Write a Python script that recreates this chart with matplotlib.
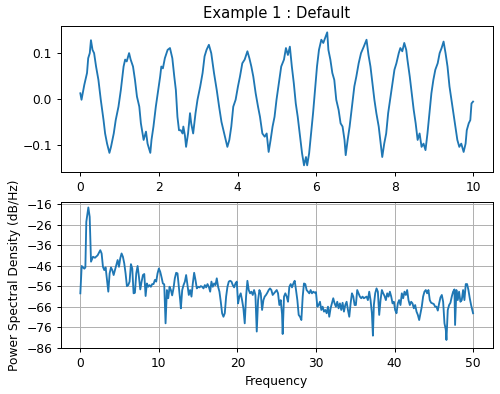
import numpy as np
import matplotlib
matplotlib.use("Agg")
import matplotlib.pyplot as plt

# ---- top panel: time signal ----
t = [0.00, 0.03, 0.10, 0.17, 0.20, 0.24, 0.27, 0.31, 0.35, 0.40, 0.46, 0.52, 0.59, 0.63, 0.68, 0.74,
     0.78, 0.85, 0.90, 0.97, 1.03, 1.10, 1.14, 1.18, 1.24, 1.28, 1.34, 1.39, 1.44, 1.50, 1.54, 1.61,
     1.67, 1.71, 1.78, 1.81, 1.86, 1.92, 1.98, 2.03, 2.06, 2.10, 2.15, 2.22, 2.28, 2.34, 2.39, 2.43,
     2.47, 2.51, 2.555, 2.60, 2.62, 2.66, 2.69, 2.74, 2.79, 2.82, 2.87, 2.93, 2.98, 3.05, 3.11, 3.16,
     3.21, 3.27, 3.33, 3.40, 3.47, 3.53, 3.59, 3.64, 3.70, 3.74, 3.79, 3.84, 3.89, 3.95, 4.01, 4.06,
     4.12, 4.18, 4.25, 4.30, 4.35, 4.40, 4.46, 4.52, 4.57, 4.63, 4.69, 4.74, 4.79, 4.84, 4.89, 4.94,
     4.99, 5.05, 5.11, 5.18, 5.23, 5.28, 5.33, 5.38, 5.43, 5.48, 5.53, 5.58, 5.64, 5.69, 5.74, 5.77,
     5.82, 5.87, 5.92, 5.97, 6.02, 6.07, 6.13, 6.18, 6.24, 6.28, 6.31, 6.36, 6.41, 6.46, 6.51, 6.57,
     6.62, 6.67, 6.72, 6.75, 6.80, 6.85, 6.91, 6.97, 7.02, 7.08, 7.14, 7.21, 7.28, 7.33, 7.38, 7.43,
     7.48, 7.53, 7.59, 7.63, 7.68, 7.73, 7.78, 7.83, 7.88, 7.94, 7.99, 8.04, 8.10, 8.14, 8.19, 8.24,
     8.29, 8.32, 8.38, 8.43, 8.48, 8.53, 8.58, 8.63, 8.68, 8.73, 8.78, 8.83, 8.88, 8.93, 8.98, 9.03,
     9.09, 9.14, 9.19, 9.24, 9.29, 9.34, 9.39, 9.44, 9.49, 9.54, 9.59, 9.64, 9.69, 9.75, 9.80, 9.83,
     9.88, 9.92, 9.95, 9.99]
s = [0.013, -0.001, 0.031, 0.057, 0.089, 0.100, 0.128, 0.107, 0.100, 0.071, 0.042, -0.001, -0.045, -0.074, -0.096, -0.116,
     -0.103, -0.074, -0.045, -0.016, 0.020, 0.071, 0.086, 0.082, 0.100, 0.086, 0.071, 0.042, 0.006, -0.016, -0.052, -0.088,
     -0.070, -0.096, -0.116, -0.088, -0.059, -0.016, 0.020, 0.049, 0.071, 0.067, 0.089, 0.107, 0.111, 0.089, 0.049, 0.020,
     -0.038, -0.067, -0.067, -0.074, -0.059, -0.078, -0.103, -0.074, -0.030, -0.052, -0.074, -0.030, -0.001, 0.028, 0.057, 0.093,
     0.107, 0.118, 0.100, 0.057, 0.020, -0.016, -0.049, -0.067, -0.088, -0.103, -0.088, -0.059, -0.016, -0.001, 0.028, 0.049,
     0.078, 0.086, 0.104, 0.089, 0.071, 0.049, 0.013, -0.016, -0.038, -0.074, -0.081, -0.074, -0.114, -0.088, -0.059, -0.038,
     -0.001, 0.035, 0.071, 0.086, 0.111, 0.096, 0.114, 0.071, 0.035, -0.009, -0.038, -0.074, -0.117, -0.143, -0.125, -0.143,
     -0.117, -0.074, -0.030, 0.020, 0.071, 0.107, 0.129, 0.122, 0.136, 0.145, 0.107, 0.086, 0.057, 0.042, -0.001, -0.023,
     -0.052, -0.059, -0.088, -0.121, -0.088, -0.059, -0.016, 0.028, 0.049, 0.078, 0.100, 0.114, 0.129, 0.096, 0.071, 0.035,
     -0.001, -0.030, -0.059, -0.088, -0.125, -0.096, -0.074, -0.030, -0.001, 0.035, 0.064, 0.078, 0.100, 0.111, 0.104, 0.122,
     0.107, 0.086, 0.049, 0.013, -0.023, -0.052, -0.088, -0.074, -0.103, -0.096, -0.110, -0.074, -0.030, 0.013, 0.042, 0.064,
     0.078, 0.100, 0.111, 0.125, 0.100, 0.071, 0.028, -0.001, -0.030, -0.059, -0.088, -0.103, -0.096, -0.114, -0.096, -0.067,
     -0.052, -0.045, -0.009, -0.005]

# ---- bottom panel: PSD (dB/Hz) ----
freq = [0.0, 0.17, 0.34, 0.51, 0.64, 0.76, 1.02, 1.19, 1.36, 1.61, 1.86, 2.20, 2.54, 2.71, 2.88, 3.05,
        3.22, 3.39, 3.56, 3.73, 3.90, 4.07, 4.24, 4.41, 4.58, 4.75, 4.92, 5.08, 5.25, 5.42, 5.59, 5.76,
        5.93, 6.10, 6.27, 6.44, 6.61, 6.78, 6.95, 7.12, 7.29, 7.46, 7.63, 7.80, 7.97, 8.14, 8.31, 8.47,
        8.64, 8.81, 8.98, 9.15, 9.32, 9.49, 9.66, 9.83, 10.0, 10.17, 10.34, 10.51, 10.68, 10.85, 11.02, 11.19,
        11.36, 11.53, 11.69, 11.86, 12.03, 12.20, 12.37, 12.54, 12.71, 12.80, 12.97, 13.14, 13.31, 13.47, 13.64, 13.81,
        13.98, 14.15, 14.32, 14.49, 14.66, 14.83, 15.0, 15.17, 15.34, 15.51, 15.68, 15.85, 16.02, 16.19, 16.36, 16.53,
        16.69, 16.86, 17.03, 17.20, 17.37, 17.54, 17.71, 17.88, 18.05, 18.22, 18.39, 18.56, 18.73, 18.90, 19.07, 19.24,
        19.41, 19.58, 19.75, 19.92, 20.08, 20.25, 20.42, 20.59, 20.76, 20.93, 21.10, 21.27, 21.44, 21.61, 21.78, 21.95,
        22.12, 22.29, 22.46, 22.63, 22.80, 22.97, 23.14, 23.31, 23.47, 23.64, 23.81, 23.98, 24.15, 24.32, 24.49, 24.66,
        24.83, 25.0, 25.17, 25.34, 25.51, 25.68, 25.76, 25.93, 26.10, 26.27, 26.44, 26.61, 26.78, 26.95, 27.12, 27.29,
        27.46, 27.63, 27.80, 27.97, 28.14, 28.31, 28.47, 28.64, 28.81, 28.98, 29.15, 29.32, 29.49, 29.66, 29.83, 30.0,
        30.17, 30.34, 30.51, 30.68, 30.85, 31.02, 31.19, 31.36, 31.53, 31.69, 31.86, 32.03, 32.20, 32.37, 32.54, 32.71,
        32.88, 33.05, 33.22, 33.39, 33.56, 33.73, 33.90, 34.07, 34.24, 34.41, 34.58, 34.75, 34.92, 35.08, 35.25, 35.42,
        35.59, 35.76, 35.93, 36.10, 36.27, 36.44, 36.61, 36.78, 36.95, 37.12, 37.25, 37.37, 37.54, 37.71, 37.88, 38.05,
        38.22, 38.39, 38.56, 38.73, 38.90, 39.07, 39.24, 39.41, 39.58, 39.75, 39.92, 40.08, 40.25, 40.42, 40.59, 40.76,
        40.93, 41.10, 41.27, 41.44, 41.61, 41.78, 41.95, 42.12, 42.29, 42.46, 42.63, 42.80, 42.97, 43.14, 43.31, 43.47,
        43.64, 43.81, 43.98, 44.15, 44.32, 44.49, 44.66, 44.83, 45.0, 45.17, 45.34, 45.51, 45.68, 45.85, 46.02, 46.19,
        46.36, 46.53, 46.61, 46.78, 46.95, 47.12, 47.29, 47.46, 47.63, 47.71, 47.88, 48.05, 48.22, 48.39, 48.56, 48.73,
        48.90, 49.07, 49.24, 49.41, 49.58, 49.75, 50.0]
psd_db = [-59.4, -46.1, -46.8, -47.4, -46.8, -24.6, -17.6, -22.2, -44.0, -41.6, -42.1, -40.9, -38.4, -40.0, -46.5, -48.1,
          -46.8, -52.9, -58.6, -49.7, -46.8, -48.1, -50.5, -48.1, -45.6, -43.2, -46.5, -42.4, -40.0, -41.6, -44.8, -49.7,
          -55.9, -55.4, -53.7, -45.2, -47.3, -59.4, -59.1, -49.7, -46.1, -51.3, -57.5, -53.7, -50.5, -50.0, -60.7, -54.6,
          -56.2, -55.4, -56.2, -54.9, -54.9, -52.9, -53.7, -49.7, -47.3, -48.9, -51.6, -54.6, -55.0, -74.0, -57.8, -61.8,
          -56.2, -57.8, -60.4, -57.0, -52.1, -49.4, -49.7, -56.2, -62.7, -66.7, -57.8, -55.4, -53.7, -50.5, -55.4, -60.2,
          -57.8, -61.0, -54.6, -49.4, -52.9, -57.0, -56.2, -56.5, -55.9, -56.2, -57.0, -55.4, -56.5, -54.9, -56.2, -58.6,
          -53.7, -56.2, -54.6, -55.4, -52.1, -56.2, -58.6, -63.5, -69.1, -70.8, -69.1, -61.0, -56.2, -53.7, -53.3, -53.7,
          -55.4, -56.5, -54.6, -53.7, -64.3, -61.0, -59.4, -62.7, -66.7, -74.0, -61.0, -53.3, -57.8, -59.4, -58.6, -60.2,
          -57.8, -60.2, -78.0, -62.7, -57.8, -59.4, -67.5, -62.7, -61.0, -60.2, -59.1, -57.8, -57.0, -57.8, -60.2, -59.4,
          -58.6, -57.8, -59.4, -65.1, -62.7, -69.5, -79.2, -61.0, -59.4, -61.0, -63.5, -56.2, -54.9, -56.5, -54.6, -53.3,
          -57.8, -62.7, -69.9, -70.8, -72.4, -61.0, -54.6, -54.9, -57.8, -58.6, -59.4, -57.8, -59.4, -58.6, -59.1, -58.8,
          -65.9, -65.1, -63.5, -67.5, -65.9, -68.3, -67.5, -69.1, -65.9, -70.8, -66.7, -64.3, -61.8, -64.3, -65.9, -63.5,
          -66.7, -64.3, -67.5, -64.0, -68.3, -65.1, -63.5, -67.5, -70.8, -64.3, -59.4, -61.0, -65.1, -65.1, -57.8, -59.4,
          -61.0, -61.8, -61.0, -61.8, -61.4, -61.0, -62.7, -58.6, -62.7, -69.1, -80.0, -65.1, -59.4, -57.0, -58.6, -69.9,
          -62.7, -57.8, -59.4, -60.7, -62.7, -59.4, -61.0, -58.6, -61.0, -64.3, -63.5, -67.5, -69.1, -64.3, -62.7, -65.1,
          -59.4, -61.8, -58.6, -60.2, -57.8, -62.7, -65.1, -63.5, -64.3, -66.7, -65.1, -68.3, -69.9, -72.4, -69.1, -65.9,
          -61.0, -58.6, -57.8, -59.4, -57.8, -62.7, -64.0, -64.3, -64.6, -65.9, -65.9, -67.8, -64.3, -61.4, -60.2, -63.5,
          -74.0, -77.2, -82.1, -67.5, -65.1, -64.0, -61.0, -58.6, -57.5, -74.8, -57.8, -62.7, -58.6, -63.5, -62.7, -57.8,
          -62.7, -54.9, -54.9, -57.8, -61.8, -65.1, -69.1]

psd_ticks = [-86, -76, -66, -56, -46, -36, -26, -16]

DPI = 88.5
fig, (ax0, ax1) = plt.subplots(2, 1, figsize=(500 / DPI, 394 / DPI), dpi=DPI)
fig.subplots_adjust(left=0.1214, right=0.9854, top=0.9348, bottom=0.1168, hspace=0.203)

ax0.plot(t, s)
ax0.set_title("Example 1 : Default")

ax1.plot(freq, psd_db)
ax1.set_yticks(psd_ticks)
ax1.set_ylim(-86, -14.8)
ax1.grid(True)
ax1.set_xlabel("Frequency")
ax1.set_ylabel("Power Spectral Density (dB/Hz)")

fig.savefig("out.png", dpi=DPI)
